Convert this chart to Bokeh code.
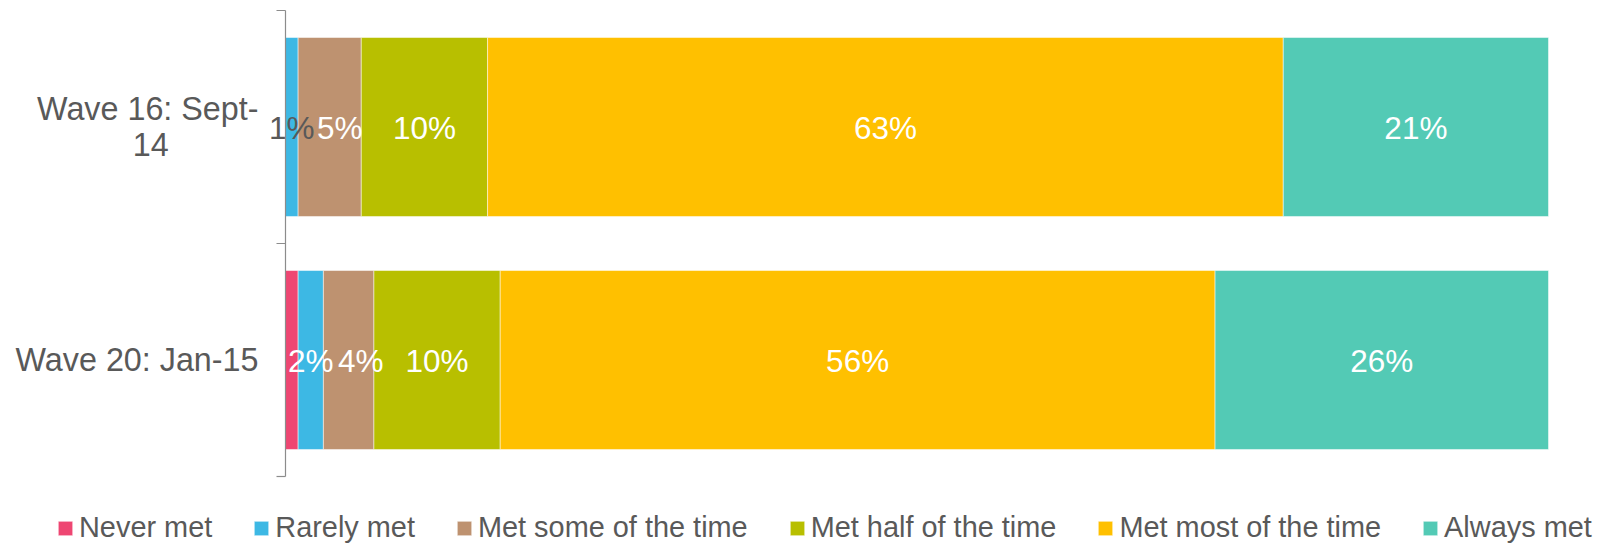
import math
from bokeh.plotting import figure
from bokeh.models import ColumnDataSource, Range1d, Legend, LegendItem
from bokeh.core.properties import value
from bokeh.embed import file_html
from bokeh.resources import INLINE

# ---- data ----
waves = ["Wave 20: Jan-15", "Wave 16: Sept-\n14"]          # bottom to top
series = ["Never met", "Rarely met", "Met some of the time",
          "Met half of the time", "Met most of the time", "Always met"]
never_met = [1.0, 0.0]
rarely_met = [2.0, 1.0]
met_some = [4.0, 5.0]
met_half = [10.0, 10.0]
met_most = [56.6, 63.0]
always_met = [26.4, 21.0]
# displayed data labels (per series, per wave: Wave 20, Wave 16)
label_text = [["", ""], ["2%", "1%"], ["4%", "5%"], ["10%", "10%"],
              ["56%", "63%"], ["26%", "21%"]]

colors = ["#EE4672", "#3DB8E4", "#BE9270", "#B8BF00", "#FFC000", "#53CAB5"]
label_colors = [["white", "white"], ["white", "#595959"], ["white", "white"],
                ["white", "white"], ["white", "white"], ["white", "white"]]
label_dx = [[0, 0], [0, 0], [12, 10], [0, 0], [0, 0], [0, 0]]

TEXT = "#595959"
AXIS = "#8C8C8C"
FONT = "Liberation Sans"

ypos = [0.5, 1.5]
cols = [never_met, rarely_met, met_some, met_half, met_most, always_met]
data = {"y": ypos}
for name, vals in zip(series, cols):
    data[name] = vals
source = ColumnDataSource(data)

# frame covers the whole canvas; value axis 0..100 maps to px 285..1548
W, H = 1606, 544
px_per_unit = (1548 - 285) / 100.0
py_per_unit = (476 - 10) / 2.0
x_range = Range1d(-285 / px_per_unit, 100 + (W - 1548) / px_per_unit)
y_range = Range1d(-(H - 476) / py_per_unit, 2 + 10 / py_per_unit)

p = figure(width=W, height=H, output_backend="svg", toolbar_location=None,
           x_range=x_range, y_range=y_range,
           min_border=0)
p.outline_line_color = None
p.xgrid.visible = False
p.ygrid.visible = False
p.xaxis.visible = False
p.yaxis.visible = False

renderers = p.hbar_stack(series, y="y", height=0.768, color=colors,
                         line_color="white", line_width=0.5, source=source)

# data labels at segment centres
lx, ly, lt, lc, ld = [], [], [], [], []
for j in range(len(ypos)):
    left = 0.0
    for i, vals in enumerate(cols):
        v = vals[j]
        if label_text[i][j]:
            lx.append(left + v / 2)
            ly.append(ypos[j])
            lt.append(label_text[i][j])
            lc.append(label_colors[i][j])
            ld.append(label_dx[i][j])
        left += v
lsrc = ColumnDataSource(dict(x=lx, y=ly, text=lt, color=lc, dx=ld))
p.text(x="x", y="y", text="text", text_color="color", x_offset="dx", y_offset=1,
       source=lsrc, text_font=value(FONT), text_font_size="31.5px",
       text_align="center", text_baseline="middle")

# category axis: line, bracket ticks at category boundaries, labels
n = len(waves)
p.segment(x0=[0], y0=[0], x1=[0], y1=[n], line_color=AXIS, line_width=1.2)
p.ray(x=[0] * (n + 1), y=list(range(n + 1)), length=9, length_units="screen",
      angle=math.pi, line_color=AXIS, line_width=1.2)
NBSP = "\u00a0"
tick_labels = [waves[0], waves[1] + NBSP * 10]
p.text(x=[0] * n, y=ypos, text=tick_labels, x_offset=-27,
       text_font=value(FONT), text_font_size="32.3px", text_color=TEXT,
       text_align="right", text_baseline="middle", text_line_height=0.98)

legend = Legend(items=[LegendItem(label=s, renderers=[r]) for s, r in zip(series, renderers)],
                orientation="horizontal", location=(56, 0))
legend.padding = 0
legend.margin = 0
legend.border_line_color = None
legend.background_fill_alpha = 0
legend.glyph_width = 18
legend.glyph_height = 18
legend.label_standoff = 5
legend.spacing = 40
legend.label_text_font = FONT
legend.label_text_font_size = "28.9px"
legend.label_text_color = TEXT
p.add_layout(legend, "center")

open("out.html", "w").write(file_html(p, INLINE))
